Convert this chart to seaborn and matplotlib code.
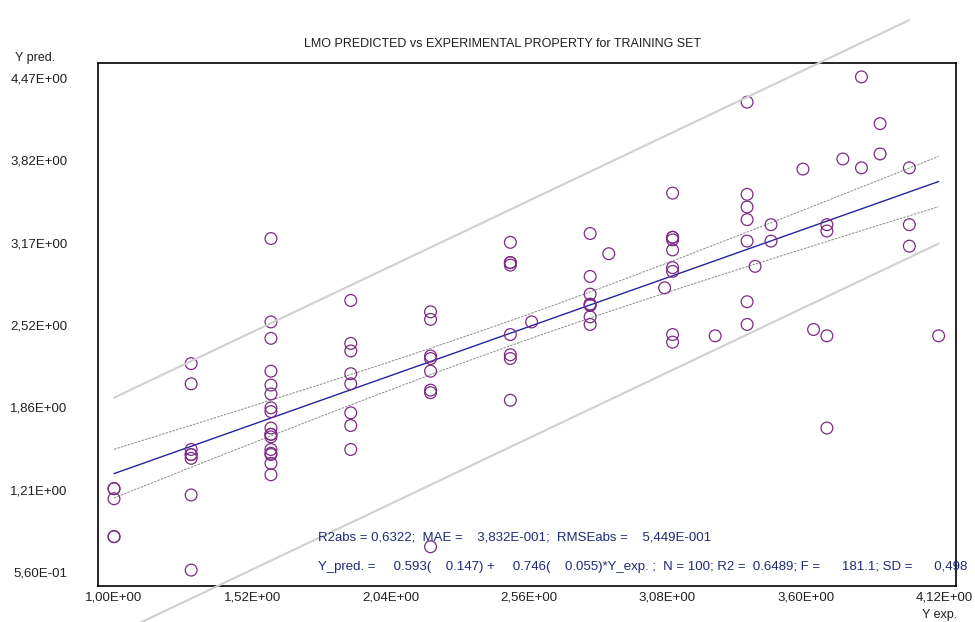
import numpy as np
import matplotlib
matplotlib.use("Agg")
import matplotlib.pyplot as plt
import seaborn as sns

# ---------------- data ----------------
y_exp = ([1.00] * 5 + [1.29] * 8 + [1.59] * 17 + [1.89] * 8 + [2.19] * 8 +
         [2.49] * 8 + [2.57] + [2.79] * 8 + [2.86] + [3.07] + [3.10] * 9 +
         [3.26] + [3.38] * 7 + [3.41] + [3.47] * 2 + [3.59] + [3.63] +
         [3.68] * 4 + [3.74] + [3.81] * 2 + [3.88] * 2 + [3.99] * 3 + [4.10])
y_pred = [1.22, 1.22, 1.14, 0.84, 0.84,
          2.21, 2.05, 1.53, 1.49, 1.49, 1.46, 1.17, 0.575,
          3.20, 2.54, 2.41, 2.15, 2.04, 1.97, 1.86, 1.83, 1.70, 1.65, 1.65,
          1.63, 1.53, 1.50, 1.49, 1.42, 1.33,
          2.71, 2.37, 2.31, 2.13, 2.05, 1.82, 1.72, 1.53,
          2.62, 2.56, 2.27, 2.25, 2.15, 2.00, 1.98, 0.76,
          3.17, 3.01, 3.01, 2.99, 2.44, 2.28, 2.25, 1.92,
          2.54,
          3.24, 2.90, 2.76, 2.68, 2.68, 2.67, 2.58, 2.52,
          3.08,
          2.81,
          3.56, 3.21, 3.21, 3.19, 3.11, 2.97, 2.94, 2.44, 2.38,
          2.43,
          4.28, 3.55, 3.45, 3.35, 3.18, 2.70, 2.52,
          2.98,
          3.31, 3.18,
          3.75,
          2.48,
          3.31, 3.26, 2.43, 1.70,
          3.83,
          4.48, 3.76,
          4.11, 3.87,
          3.76, 3.31, 3.14,
          2.43]

# regression statistics printed on the chart
intercept, se_intercept = 0.593, 0.147
slope, se_slope = 0.746, 0.055
n_obs, sd = 100, 0.498
t_crit = 1.984
diag_offset = 0.94          # grey y = x +/- offset lines
upper_diag_end = 3.99

xtick_vals = [1.00, 1.52, 2.04, 2.56, 3.08, 3.60, 4.12]
xtick_labels = ["1,00E+00", "1,52E+00", "2,04E+00", "2,56E+00",
                "3,08E+00", "3,60E+00", "4,12E+00"]
ytick_labels = ["5,60E-01", "1,21E+00", "1,86E+00", "2,52E+00",
                "3,17E+00", "3,82E+00", "4,47E+00"]
ytick_vals = list(np.linspace(0.56, 4.47, 7))

title = "LMO PREDICTED vs EXPERIMENTAL PROPERTY for TRAINING SET"
stats1 = "R2abs = 0,6322;  MAE =    3,832E-001;  RMSEabs =    5,449E-001"
stats2 = ("Y_pred. =     0.593(    0.147) +     0.746(    0.055)*Y_exp. ;  "
          "N = 100; R2 =  0.6489; F =      181.1; SD =      0,498")

# ---------------- style ----------------
sns.set_style("white")
plt.rcParams["font.family"] = ["Liberation Sans", "DejaVu Sans"]

PURPLE = "#7d2a85"
BLUE = "#2424a0"
NAVY = "#1e2a78"
TXT = "#202020"

fig = plt.figure(figsize=(9.75, 6.22), dpi=100)
ax = fig.add_axes([98 / 975, 36 / 622, 858 / 975, 523 / 622])

sns.scatterplot(x=y_exp, y=y_pred, ax=ax, marker="o", s=72,
                facecolor="none", edgecolor=PURPLE, linewidth=0.9, zorder=4)

x_arr = np.array(y_exp)
xs = np.linspace(x_arr.min(), x_arr.max(), 200)
fit = intercept + slope * xs
sxx = (sd / se_slope) ** 2
xbar = np.sqrt(((se_intercept / sd) ** 2 - 1.0 / n_obs) * sxx)
half = t_crit * sd * np.sqrt(1.0 / n_obs + (xs - xbar) ** 2 / sxx)

ax.plot(xs, fit, color=BLUE, lw=1.0, zorder=3)
ax.plot(xs, fit + half, color="#8a8a8a", lw=0.7, ls=(0, (2.5, 1.2)), zorder=3)
ax.plot(xs, fit - half, color="#8a8a8a", lw=0.7, ls=(0, (2.5, 1.2)), zorder=3)

xu = np.array([x_arr.min(), upper_diag_end])
ax.plot(xu, xu + diag_offset, color="#d0d0d0", lw=1.5, zorder=5, clip_on=False)
xl = np.array([x_arr.min(), x_arr.max()])
ax.plot(xl, xl - diag_offset, color="#d0d0d0", lw=1.5, zorder=5, clip_on=False)

ax.set_xlim(0.9398, 4.1654)
ax.set_ylim(0.4492, 4.590)
ax.set_xticks(xtick_vals)
ax.set_xticklabels(xtick_labels)
ax.set_yticks(ytick_vals)
ax.set_yticklabels(ytick_labels)
ax.tick_params(axis="both", direction="in", length=7, width=1.2,
               colors="black", labelcolor=TXT, labelsize=9.5)
ax.tick_params(axis="y", pad=22)
ax.tick_params(axis="x", pad=4)
ax.set_xlabel("")
ax.set_ylabel("")
for sp in ax.spines.values():
    sp.set_visible(True)
    sp.set_color("black")
    sp.set_linewidth(1.2)

fig.text(502 / 975, 1 - 44 / 622, title, ha="center", va="center",
         fontsize=9, color=TXT)
fig.text(15 / 975, 1 - 58 / 622, "Y pred.", ha="left", va="center",
         fontsize=9, color=TXT)
fig.text(957 / 975, 1 - 615 / 622, "Y exp.", ha="right", va="center",
         fontsize=9, color=TXT)
fig.text(318 / 975, 1 - 537 / 622, stats1, ha="left", va="center",
         fontsize=9.5, color=NAVY)
fig.text(318 / 975, 1 - 567 / 622, stats2, ha="left", va="center",
         fontsize=9.5, color=NAVY)

fig.savefig("out.png", dpi=100)
